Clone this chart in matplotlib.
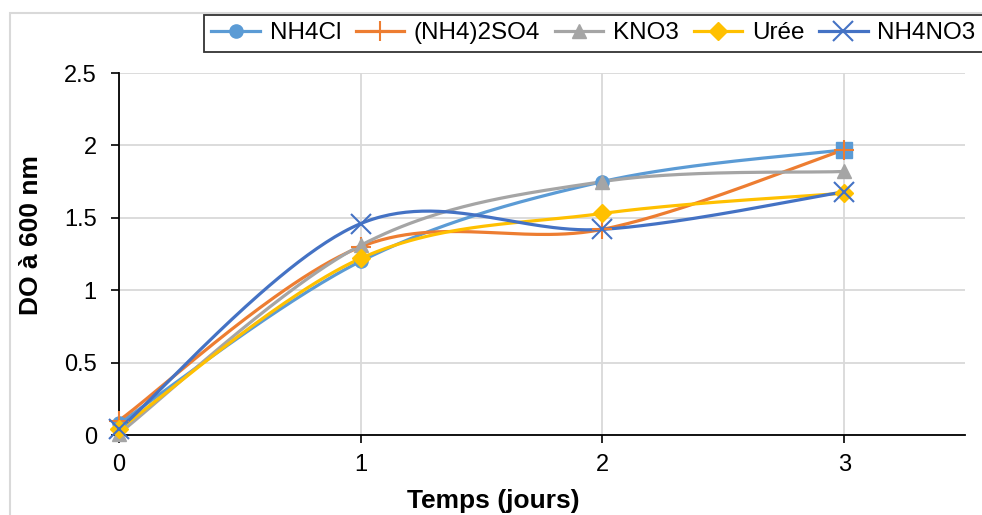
import numpy as np
import matplotlib
matplotlib.use('Agg')
import matplotlib.pyplot as plt
from matplotlib.patches import Rectangle

plt.rcParams['font.family'] = ['Liberation Sans', 'DejaVu Sans']

jours = [0, 1, 2, 3]
nh4cl = [0.08, 1.20, 1.75, 1.97]
nh4_2so4 = [0.10, 1.30, 1.42, 1.97]
kno3 = [0.01, 1.31, 1.75, 1.82]
uree = [0.04, 1.22, 1.53, 1.67]
nh4no3 = [0.04, 1.46, 1.42, 1.68]

series = [
    ('NH4Cl', nh4cl, '#5B9BD5', 'o'),
    ('(NH4)2SO4', nh4_2so4, '#ED7D31', '+'),
    ('KNO3', kno3, '#A5A5A5', '^'),
    ('Urée', uree, '#FFC000', 'D'),
    ('NH4NO3', nh4no3, '#4472C4', 'x'),
]


def smooth(xs, ys, n=60):
    # excel style smoothed line (catmull-rom as bezier)
    p = np.column_stack([xs, ys]).astype(float)
    p = np.vstack([p[0], p, p[-1]])
    t = np.linspace(0, 1, n)[:, None]
    out = []
    for i in range(1, len(p) - 2):
        p0, p3 = p[i], p[i + 1]
        c1 = p0 + (p[i + 1] - p[i - 1]) / 6
        c2 = p3 - (p[i + 2] - p[i]) / 6
        seg = (1 - t) ** 3 * p0 + 3 * (1 - t) ** 2 * t * c1 + 3 * (1 - t) * t ** 2 * c2 + t ** 3 * p3
        out.append(seg)
    out = np.vstack(out)
    return out[:, 0], out[:, 1]


fig = plt.figure(figsize=(9.82, 5.15), dpi=100)
ax = fig.add_axes([119 / 982, 80 / 515, 846 / 982, 362 / 515])

# chart area border
fig.patches.append(Rectangle((10 / 982, -0.1), 1.2, 1 - 13 / 515 + 0.1, transform=fig.transFigure,
                             fill=False, edgecolor='#D9D9D9', lw=1.5))

handles = []
for name, vals, col, mk in series:
    sx, sy = smooth(jours, vals)
    ax.plot(sx, sy, color=col, lw=2.3, clip_on=False, zorder=3)
    mew = 1.5 if mk in ('+', 'x') else 1
    ms = 14 if mk in ('+', 'x') else 9.5
    if name == 'NH4Cl':
        ax.plot(jours[:-1], vals[:-1], ls='none', marker=mk, color=col, ms=ms, mew=mew, clip_on=False, zorder=4)
        ax.plot(jours[-1:], vals[-1:], ls='none', marker='s', color=col, ms=12, clip_on=False, zorder=4)
    else:
        ax.plot(jours, vals, ls='none', marker=mk, color=col, ms=ms, mew=mew, clip_on=False, zorder=4)
    h, = ax.plot([], [], color=col, lw=2.3, marker=mk, ms=ms, mew=mew)
    handles.append(h)

ax.set_xlim(0, 3.5)
ax.set_ylim(0, 2.5)
ax.set_xticks([0, 1, 2, 3])
ax.set_yticks([0, 0.5, 1, 1.5, 2, 2.5])
ax.set_yticklabels(['0', '0.5', '1', '1.5', '2', '2.5'])
ax.tick_params(labelsize=17, length=6, width=1.2)
ax.tick_params(axis='y', pad=10)
ax.tick_params(axis='x', pad=8)
ax.grid(True, color='#D9D9D9', lw=1.3)
ax.set_axisbelow(True)
for s in ['top', 'right']:
    ax.spines[s].set_visible(False)
ax.spines['left'].set_linewidth(1.3)
ax.spines['bottom'].set_linewidth(1.3)

fig.text(31 / 982, 1 - 235 / 515, 'DO à 600 nm', rotation=90, ha='center', va='center',
         fontsize=19, fontweight='bold')
fig.text(493 / 982, 1 - 508 / 515, 'Temps (jours)', ha='center', va='baseline',
         fontsize=19, fontweight='bold')

leg = fig.legend(handles, [s[0] for s in series], loc='upper left',
                 bbox_to_anchor=(204 / 982, 1 - 15 / 515), ncol=5, fontsize=17.5,
                 frameon=True, fancybox=False, edgecolor='black', borderaxespad=0,
                 handlelength=2.0, handletextpad=0.4, columnspacing=0.6,
                 borderpad=0.3)
leg.get_frame().set_linewidth(1.3)

fig.savefig('out.png', dpi=100)
